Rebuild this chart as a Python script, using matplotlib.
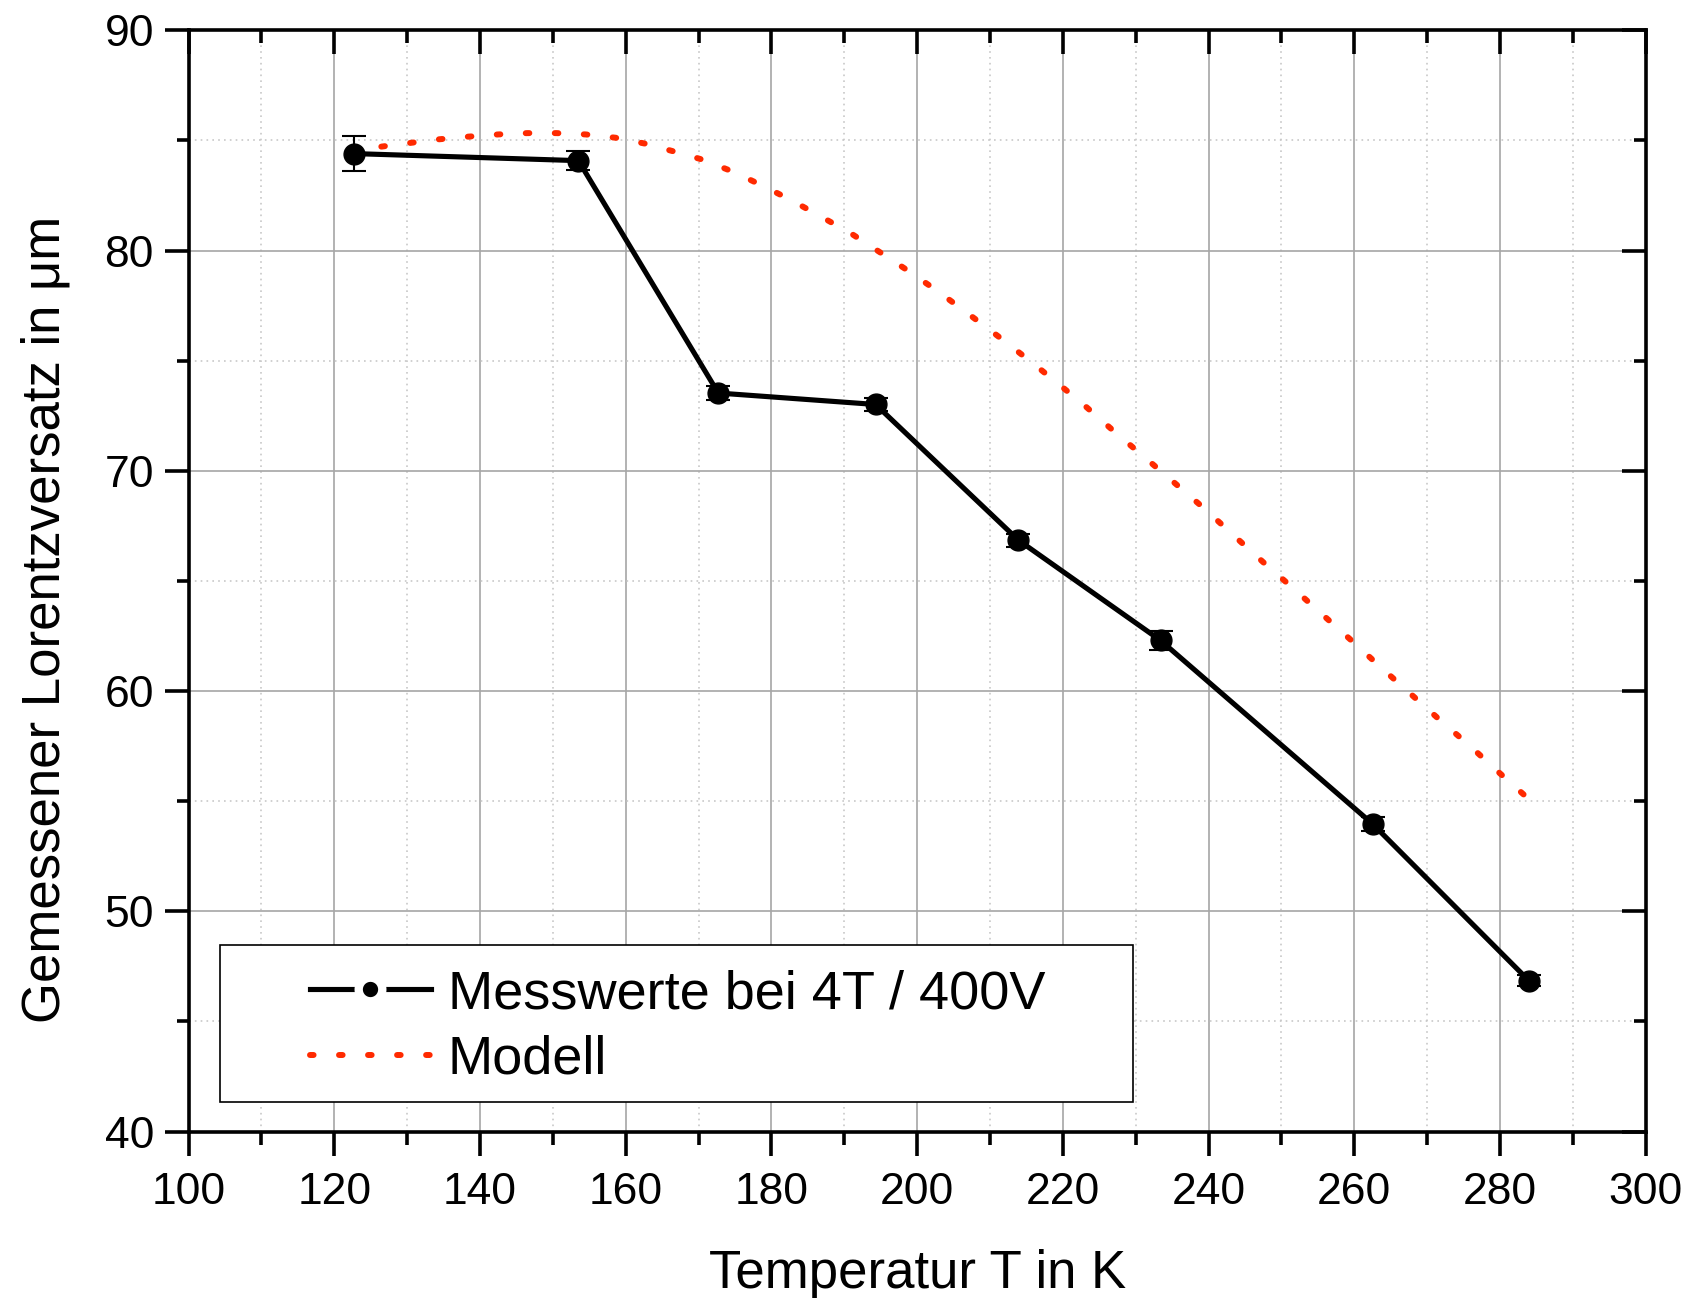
import matplotlib
matplotlib.use("Agg")
import matplotlib.pyplot as plt
from matplotlib.patches import Rectangle
from matplotlib.ticker import MultipleLocator
from matplotlib.legend_handler import HandlerLine2D

plt.rcParams['font.family'] = ['Liberation Sans', 'DejaVu Sans']

# measured values (4T / 400V)
temp_meas = [122.7, 153.5, 172.7, 194.3, 213.9, 233.4, 262.5, 284.0]
shift_meas = [84.40, 84.08, 73.53, 73.01, 66.85, 62.30, 53.97, 46.84]
shift_err = [0.79, 0.44, 0.32, 0.28, 0.30, 0.42, 0.32, 0.25]

# model curve
temp_model = [122.5, 126.3, 130.3, 134.4, 138.4, 142.5, 146.5, 150.5, 154.5,
              158.6, 162.7, 166.8, 170.6, 174.7, 178.8, 182.8, 186.8, 190.9,
              194.9, 198.9, 203.0, 207.0, 211.1, 215.2, 219.2, 223.2, 227.2,
              231.3, 235.4, 239.5, 243.5, 247.5, 251.6, 255.5, 259.6, 263.6,
              267.6, 271.7, 275.8, 279.8, 283.8]
shift_model = [84.55, 84.71, 84.88, 85.05, 85.17, 85.27, 85.33, 85.33, 85.27,
               85.12, 84.85, 84.48, 84.12, 83.58, 82.94, 82.27, 81.54, 80.78,
               79.92, 79.05, 78.11, 77.13, 76.11, 75.06, 74.00, 72.90, 71.74,
               70.59, 69.43, 68.26, 67.05, 65.85, 64.67, 63.51, 62.30, 61.09,
               59.91, 58.70, 57.53, 56.32, 55.14]

labels = ['Messwerte bei 4T / 400V', 'Modell']
red = '#ff2a00'

fig = plt.figure(figsize=(16.9, 12.98), dpi=100)
ax = fig.add_axes([0.1116, 0.1282, 0.8622, 0.8485])

# grid
ax.grid(which='major', color='#a6a6a6', lw=1.2, ls='-', zorder=0)
ax.grid(which='minor', color='#c8c8c8', lw=1.2, ls=(0, (1, 2.5)), zorder=0)
ax.set_axisbelow(True)

model_line, = ax.plot(temp_model, shift_model, color=red, lw=4.3,
                      ls=(0, (0.6, 4.26)), dash_capstyle='round', zorder=3)

ax.errorbar(temp_meas, shift_meas, yerr=shift_err, fmt='none', ecolor='black',
            elinewidth=1.5, capsize=8.3, capthick=1.5, zorder=4)
meas_line, = ax.plot(temp_meas, shift_meas, color='black', lw=3.7, marker='o',
                     markersize=15, zorder=5)

ax.set_xlim(100, 300)
ax.set_ylim(40, 90)
ax.xaxis.set_major_locator(MultipleLocator(20))
ax.xaxis.set_minor_locator(MultipleLocator(10))
ax.yaxis.set_major_locator(MultipleLocator(10))
ax.yaxis.set_minor_locator(MultipleLocator(5))

for sp in ax.spines.values():
    sp.set_linewidth(2.6)
    sp.set_zorder(6)

ax.tick_params(which='both', direction='out', width=2.6, labelsize=32,
               top=True, right=True)
ax.tick_params(which='major', length=17, pad=8)
ax.tick_params(which='minor', length=9)
ax.tick_params(axis='x', which='major', pad=12)
# ticks on the top and right spine point inwards
for t in ax.xaxis.get_major_ticks() + ax.xaxis.get_minor_ticks():
    t.tick2line.set_marker(3)
for t in ax.yaxis.get_major_ticks() + ax.yaxis.get_minor_ticks():
    t.tick2line.set_marker(0)

ax.set_xlabel('Temperatur T in K', fontsize=38)
ax.set_ylabel('Gemessener Lorentzversatz in μm', fontsize=38)
ax.xaxis.set_label_coords(0.5, -0.107)
ax.yaxis.set_label_coords(-0.081, 0.465)


def legend_marker(handle, orig):
    handle.update_from(orig)
    if orig.get_marker() == 'o':
        handle.set_markersize(17)
        handle.set_markeredgecolor('white')
        handle.set_markeredgewidth(6)


# legend with separate frame
ax.add_patch(Rectangle((0.0214, 0.0265), 0.6264, 0.1429, transform=ax.transAxes,
                       facecolor='white', edgecolor='black', lw=1.2, zorder=7))
leg = ax.legend([meas_line, model_line], labels, loc='center left',
                bbox_to_anchor=(0.083, 0.095), frameon=False, fontsize=39,
                handlelength=2.25, handletextpad=0.3, labelspacing=0.28,
                borderpad=0, borderaxespad=0,
                handler_map={meas_line: HandlerLine2D(update_func=legend_marker)})
leg.set_zorder(8)

fig.savefig('out.png', dpi=100)
